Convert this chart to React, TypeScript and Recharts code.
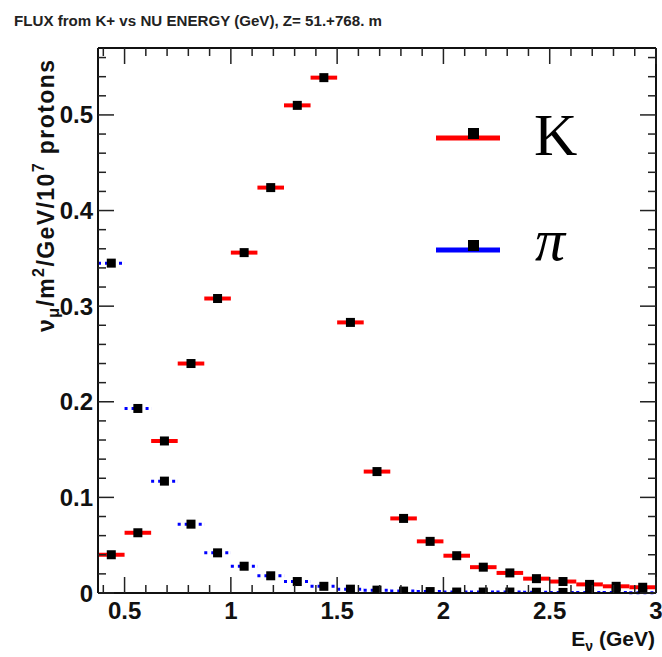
import { ComposedChart, ErrorBar, Legend, Scatter, XAxis, YAxis } from "recharts";

// 0.125 GeV bins from 0.375 to 3.0 GeV
const binCenters = [
  0.4375, 0.5625, 0.6875, 0.8125, 0.9375, 1.0625, 1.1875, 1.3125, 1.4375, 1.5625, 1.6875,
  1.8125, 1.9375, 2.0625, 2.1875, 2.3125, 2.4375, 2.5625, 2.6875, 2.8125, 2.9375,
];
const kaonFlux = [
  0.04, 0.063, 0.159, 0.24, 0.308, 0.356, 0.424, 0.51, 0.539, 0.283, 0.127, 0.078, 0.054,
  0.039, 0.027, 0.021, 0.015, 0.012, 0.009, 0.007, 0.006,
];
const pionFlux = [
  0.345, 0.193, 0.117, 0.072, 0.042, 0.028, 0.018, 0.012, 0.007, 0.004, 0.003, 0.002, 0.0015,
  0.001, 0.001, 0.001, 0.0008, 0.0006, 0.0005, 0.0004, 0.0003,
];
const halfBin = 0.0625;

const xTicks = [
  0.4, 0.5, 0.6, 0.7, 0.8, 0.9, 1, 1.1, 1.2, 1.3, 1.4, 1.5, 1.6, 1.7, 1.8, 1.9, 2, 2.1, 2.2,
  2.3, 2.4, 2.5, 2.6, 2.7, 2.8, 2.9, 3,
];
const xMajor = [0.5, 1, 1.5, 2, 2.5, 3];
const xLabels = ["0.5", "1", "1.5", "2", "2.5", "3"];
const yTicks = [
  0, 0.02, 0.04, 0.06, 0.08, 0.1, 0.12, 0.14, 0.16, 0.18, 0.2, 0.22, 0.24, 0.26, 0.28, 0.3,
  0.32, 0.34, 0.36, 0.38, 0.4, 0.42, 0.44, 0.46, 0.48, 0.5, 0.52, 0.54, 0.56,
];
const yMajor = [0, 0.1, 0.2, 0.3, 0.4, 0.5];
const yLabels = ["0", "0.1", "0.2", "0.3", "0.4", "0.5"];

const kaonData = binCenters.map((x, i) => ({ x, y: kaonFlux[i], xe: halfBin }));
const pionData = binCenters.map((x, i) => ({ x, y: pionFlux[i], xe: halfBin }));

const W = 662;
const H = 657;
const sans = "'Liberation Sans', Arial, Helvetica, sans-serif";
const serif = "'Liberation Serif', 'Times New Roman', serif";
const MAJOR = 16;
const MINOR = 8;

const majorIndex = (v: number, list: number[]) => list.findIndex((m) => Math.abs(m - v) < 1e-6);

function BottomTick({ x, y, payload }: any) {
  const i = majorIndex(payload.value, xMajor);
  return (
    <g>
      <line x1={x} x2={x} y1={y} y2={y - (i >= 0 ? MAJOR : MINOR)} stroke="#222" strokeWidth={1.5} />
      {i >= 0 && (
        <text x={x} y={y + 26} textAnchor="middle" fontFamily={sans} fontWeight="bold" fontSize={24} fill="#111">
          {xLabels[i]}
        </text>
      )}
    </g>
  );
}

function TopTick({ x, y, payload }: any) {
  const i = majorIndex(payload.value, xMajor);
  return <line x1={x} x2={x} y1={y} y2={y + (i >= 0 ? MAJOR : MINOR)} stroke="#222" strokeWidth={1.5} />;
}

function LeftTick({ x, y, payload }: any) {
  const i = majorIndex(payload.value, yMajor);
  return (
    <g>
      <line x1={x} x2={x + (i >= 0 ? MAJOR : MINOR)} y1={y} y2={y} stroke="#222" strokeWidth={1.5} />
      {i >= 0 && (
        <text x={x - 5} y={y + 8.5} textAnchor="end" fontFamily={sans} fontWeight="bold" fontSize={24} fill="#111">
          {yLabels[i]}
        </text>
      )}
    </g>
  );
}

function RightTick({ x, y, payload }: any) {
  const i = majorIndex(payload.value, yMajor);
  return <line x1={x} x2={x - (i >= 0 ? MAJOR : MINOR)} y1={y} y2={y} stroke="#222" strokeWidth={1.5} />;
}

const Marker = ({ cx, cy }: any) => <rect x={cx - 4.5} y={cy - 4.5} width={9} height={9} fill="#000" />;

function LegendBox() {
  return (
    <svg width={170} height={175}>
      <line x1={6} x2={70} y1={38} y2={38} stroke="#ff0000" strokeWidth={5} />
      <rect x={38} y={28} width={11} height={11} fill="#000" />
      <text x={104} y={55} fontFamily={serif} fontSize={60} fill="#000">
        K
      </text>
      <line x1={6} x2={70} y1={150} y2={150} stroke="#0000ff" strokeWidth={5} />
      <rect x={38} y={140} width={11} height={11} fill="#000" />
      <text x={105} y={160} fontFamily={serif} fontStyle="italic" fontSize={60} fill="#000">
        π
      </text>
    </svg>
  );
}

export default function App() {
  return (
    <div style={{ position: "absolute", left: 0, top: 0, width: W, height: H, background: "#fff" }}>
      <ComposedChart width={W} height={H} margin={{ top: 47, right: 5, bottom: 0, left: 0 }}>
        <XAxis
          xAxisId={0}
          type="number"
          dataKey="x"
          domain={[0.375, 3]}
          allowDataOverflow
          ticks={xTicks}
          interval={0}
          height={64}
          tickSize={0}
          tickMargin={0}
          tick={<BottomTick />}
          axisLine={{ stroke: "#111", strokeWidth: 2 }}
        />
        <XAxis
          xAxisId="top"
          orientation="top"
          type="number"
          dataKey="x"
          domain={[0.375, 3]}
          allowDataOverflow
          ticks={xTicks}
          interval={0}
          height={1}
          tickSize={0}
          tickMargin={0}
          tick={<TopTick />}
          axisLine={{ stroke: "#111", strokeWidth: 2 }}
        />
        <YAxis
          yAxisId={0}
          type="number"
          domain={[0, 0.57]}
          allowDataOverflow
          ticks={yTicks}
          interval={0}
          width={98}
          tickSize={0}
          tickMargin={0}
          tick={<LeftTick />}
          axisLine={{ stroke: "#111", strokeWidth: 2 }}
        />
        <YAxis
          yAxisId="right"
          orientation="right"
          type="number"
          domain={[0, 0.57]}
          allowDataOverflow
          ticks={yTicks}
          interval={0}
          width={1}
          tickSize={0}
          tickMargin={0}
          tick={<RightTick />}
          axisLine={{ stroke: "#111", strokeWidth: 2 }}
        />
        <Scatter name="π" data={pionData} dataKey="y" shape={<Marker />} isAnimationActive={false}>
          <ErrorBar dataKey="xe" direction="x" width={0} stroke="#0000ff" strokeWidth={3} strokeDasharray="3 4" />
        </Scatter>
        <Scatter name="K" data={kaonData} dataKey="y" shape={<Marker />} isAnimationActive={false}>
          <ErrorBar dataKey="xe" direction="x" width={0} stroke="#ff0000" strokeWidth={4} />
        </Scatter>
        <Legend
          layout="horizontal"
          verticalAlign="middle"
          align="center"
          content={() => <LegendBox />}
          wrapperStyle={{ left: 430, top: 100, width: 170, height: 175 }}
        />
      </ComposedChart>
      <svg width={W} height={H} style={{ position: "absolute", left: 0, top: 0, pointerEvents: "none" }}>
        <text x={14} y={26} fontFamily={sans} fontWeight="bold" fontSize={14} fill="#222" textLength={368} lengthAdjust="spacingAndGlyphs">
          FLUX from K+ vs NU ENERGY (GeV), Z= 51.+768. m
        </text>
        <text
          transform="translate(54, 60) rotate(-90)"
          textAnchor="end"
          fontFamily={sans}
          fontWeight="bold"
          fontSize={23}
          fill="#111"
          textLength={272}
          lengthAdjust="spacing"
        >
          ν<tspan fontSize={16} dy={5}>μ</tspan>
          <tspan dy={-5}>/m</tspan>
          <tspan fontSize={16} dy={-10}>2</tspan>
          <tspan dy={10}>/GeV/10</tspan>
          <tspan fontSize={16} dy={-10}>7</tspan>
          <tspan dy={10}> protons</tspan>
        </text>
        <text x={655} y={646} textAnchor="end" fontFamily={sans} fontWeight="bold" fontSize={21} fill="#111">
          E<tspan fontSize={14} dy={5}>ν</tspan>
          <tspan dy={-5}> (GeV)</tspan>
        </text>
      </svg>
    </div>
  );
}
